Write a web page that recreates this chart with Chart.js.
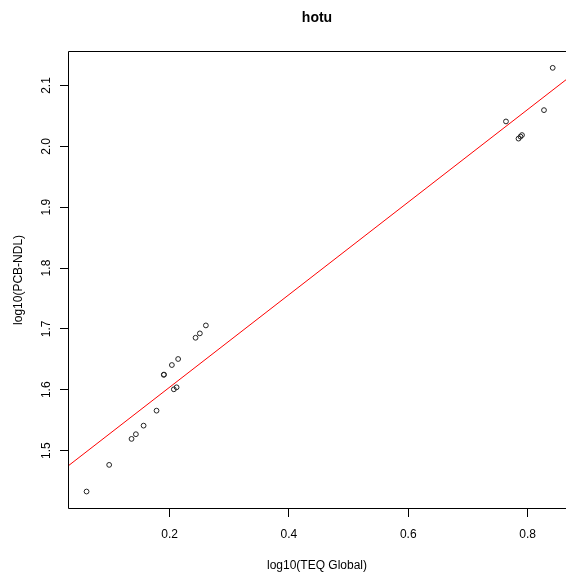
<!DOCTYPE html>
<html>
<head>
<meta charset="utf-8">
<script src="https://cdn.jsdelivr.net/npm/chart.js@4/dist/chart.umd.min.js"></script>
<style>
  html, body { margin: 0; padding: 0; background: #fff; overflow: hidden; }
  canvas { display: block; }
</style>
</head>
<body>
<canvas id="myChart" width="566" height="579" style="width:566px;height:579px"></canvas>
<script>
// points
var teqLog = [0.0608, 0.0987, 0.1362, 0.1435, 0.1564, 0.1781, 0.1902, 0.1906, 0.2071, 0.2117,
              0.2038, 0.2143, 0.2435, 0.2507, 0.2608, 0.7638, 0.8275, 0.8421, 0.7848, 0.7881, 0.7906];
var pcbLog = [1.4327, 1.4765, 1.5192, 1.5269, 1.5410, 1.5656, 1.6245, 1.6249, 1.6007, 1.6040,
              1.6406, 1.6505, 1.6854, 1.6926, 1.7057, 2.0409, 2.0595, 2.1290, 2.0127, 2.0160, 2.0185];

// red fit line, ends at the visible plot edges
var fitX = [0.0297, 0.8644];
var fitY = [1.4746, 2.1094];

var xTicks = [0.2, 0.4, 0.6, 0.8];
var yTicks = [1.5, 1.6, 1.7, 1.8, 1.9, 2.0, 2.1];

var font = 'Liberation Sans, Arial, sans-serif';

var scatterData = teqLog.map(function(x, i) { return { x: x, y: pcbLog[i] }; });
var fitData = fitX.map(function(x, i) { return { x: x, y: fitY[i] }; });

// box around the plot region (right side runs off the window)
var boxPlugin = {
    id: 'box',
    afterDatasetsDraw: function(chart) {
        var a = chart.chartArea;
        var c = chart.ctx;
        var l = Math.round(a.left) + 0.5, t = Math.round(a.top) + 0.5, b = Math.round(a.bottom) - 0.5;
        c.save();
        c.strokeStyle = '#000';
        c.lineWidth = 1;
        c.beginPath();
        c.moveTo(chart.width, t);
        c.lineTo(l, t);
        c.lineTo(l, b);
        c.lineTo(chart.width, b);
        c.stroke();
        c.restore();
    }
};

var ctx = document.getElementById('myChart').getContext('2d');
var chart = new Chart(ctx, {
    type: 'scatter',
    data: {
        datasets: [{
            label: 'points',
            data: scatterData,
            pointStyle: 'circle',
            pointRadius: 2.4,
            pointBorderWidth: 1,
            pointBorderColor: '#222',
            pointBackgroundColor: 'rgba(0,0,0,0)',
            order: 1
        }, {
            type: 'line',
            label: 'fit',
            data: fitData,
            borderColor: '#ff0000',
            borderWidth: 1,
            pointRadius: 0,
            fill: false,
            order: 2
        }]
    },
    plugins: [boxPlugin],
    options: {
        responsive: false,
        animation: false,
        devicePixelRatio: 1,
        layout: { autoPadding: false, padding: 0 },
        plugins: {
            legend: { display: false },
            tooltip: { enabled: false },
            title: {
                display: true,
                text: 'hotu',
                fullSize: false,
                color: '#000',
                font: { family: font, size: 14, weight: 'bold' },
                padding: { top: 10, bottom: 24 }
            }
        },
        scales: {
            x: {
                type: 'linear',
                min: 0.0297,
                max: 0.8644,
                afterBuildTicks: function(scale) {
                    scale.ticks = xTicks.map(function(v) { return { value: v }; });
                },
                afterFit: function(scale) { scale.height = 70; },
                grid: { display: true, drawOnChartArea: false, drawTicks: true, tickLength: 8, color: '#000' },
                border: { display: false },
                ticks: {
                    autoSkip: false,
                    padding: 10,
                    color: '#000',
                    font: { family: font, size: 12 },
                    callback: function(v) { return v.toFixed(1); }
                },
                title: {
                    display: true,
                    text: 'log10(TEQ Global)',
                    color: '#000',
                    font: { family: font, size: 12 },
                    padding: { top: 0, bottom: 6 }
                }
            },
            y: {
                type: 'linear',
                min: 1.404,
                max: 2.157,
                afterBuildTicks: function(scale) {
                    scale.ticks = yTicks.map(function(v) { return { value: v }; });
                },
                afterFit: function(scale) { scale.width = 68; },
                grid: { display: true, drawOnChartArea: false, drawTicks: true, tickLength: 8, color: '#000' },
                border: { display: false },
                ticks: {
                    autoSkip: false,
                    minRotation: 90,
                    maxRotation: 90,
                    crossAlign: 'center',
                    padding: 5,
                    color: '#000',
                    font: { family: font, size: 12 },
                    callback: function(v) { return v.toFixed(1); }
                },
                title: {
                    display: true,
                    text: 'log10(PCB-NDL)',
                    color: '#000',
                    font: { family: font, size: 12 },
                    padding: { top: 11, bottom: 0 }
                }
            }
        }
    }
});
</script>
</body>
</html>
